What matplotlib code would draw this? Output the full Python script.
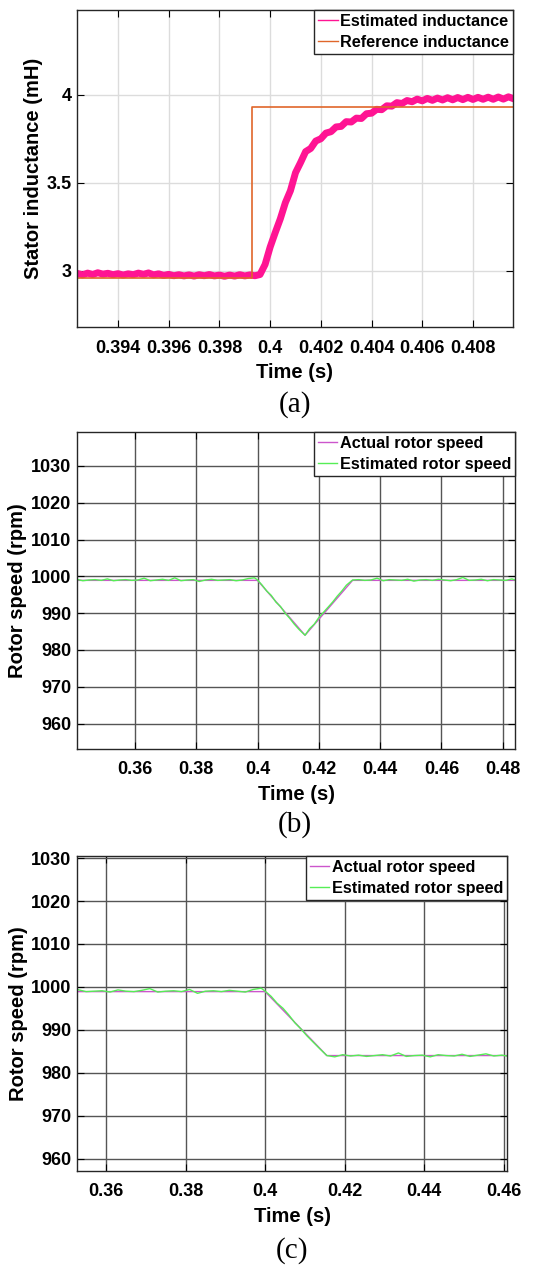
import matplotlib
matplotlib.use("Agg")
import matplotlib.pyplot as plt

plt.rcParams['font.family'] = ['Liberation Sans', 'DejaVu Sans']
plt.rcParams['font.weight'] = 'bold'

# (a) stator inductance
t_ind = [0.3924, 0.3926, 0.3928, 0.3930, 0.3932, 0.3934, 0.3936, 0.3938, 0.3940, 0.3942,
         0.3944, 0.3946, 0.3948, 0.3950, 0.3952, 0.3954, 0.3956, 0.3958, 0.3960, 0.3962,
         0.3964, 0.3966, 0.3968, 0.3970, 0.3972, 0.3974, 0.3976, 0.3978, 0.3980, 0.3982,
         0.3984, 0.3986, 0.3988, 0.3990, 0.3992, 0.3994, 0.3996,
         0.3998, 0.4000, 0.4002, 0.4004, 0.4006, 0.4008, 0.4010, 0.4012, 0.4014, 0.4016,
         0.4018, 0.4020, 0.4022, 0.4024, 0.4026, 0.4028, 0.4030, 0.4032, 0.4034, 0.4036,
         0.4038, 0.4040, 0.4042, 0.4044, 0.4046, 0.4048, 0.4050, 0.4052, 0.4054, 0.4056,
         0.4058, 0.4060, 0.4062, 0.4064, 0.4066, 0.4068, 0.4070, 0.4072, 0.4074, 0.4076,
         0.4078, 0.4080, 0.4082, 0.4084, 0.4086, 0.4088, 0.4090, 0.4092, 0.4094, 0.4096]
est_ind = [2.984, 2.976, 2.986, 2.978, 2.988, 2.980, 2.985, 2.977, 2.983, 2.975,
           2.982, 2.977, 2.986, 2.979, 2.987, 2.976, 2.982, 2.973, 2.979, 2.971,
           2.977, 2.970, 2.976, 2.969, 2.977, 2.971, 2.978, 2.970, 2.975, 2.968,
           2.975, 2.969, 2.977, 2.970, 2.976, 2.971, 2.978,
           3.035, 3.134, 3.216, 3.294, 3.386, 3.454, 3.556, 3.614, 3.676, 3.694,
           3.736, 3.749, 3.781, 3.789, 3.816, 3.819, 3.846, 3.844, 3.866, 3.864,
           3.891, 3.894, 3.916, 3.914, 3.936, 3.934, 3.954, 3.949, 3.966, 3.959,
           3.974, 3.964, 3.978, 3.967, 3.980, 3.969, 3.982, 3.970, 3.983, 3.971,
           3.984, 3.972, 3.984, 3.973, 3.985, 3.973, 3.986, 3.974, 3.987, 3.976]
t_ref = [0.3924, 0.3993, 0.3993, 0.4096]
ref_ind = [2.96, 2.96, 3.93, 3.93]

# (b) speed dip and recovery
t_b = [0.341, 0.343, 0.345, 0.347, 0.349, 0.351, 0.353, 0.355, 0.357, 0.359,
       0.361, 0.363, 0.365, 0.367, 0.369, 0.371, 0.373, 0.375, 0.377, 0.379,
       0.381, 0.383, 0.385, 0.387, 0.389, 0.391, 0.393, 0.395, 0.397, 0.399,
       0.400, 0.4015, 0.403, 0.4045, 0.406, 0.4075, 0.409, 0.4105, 0.412, 0.4135, 0.4155,
       0.417, 0.4185, 0.420, 0.4215, 0.423, 0.4245, 0.426, 0.4275, 0.429, 0.431,
       0.433, 0.435, 0.437, 0.439, 0.441, 0.443, 0.445, 0.447, 0.449, 0.451,
       0.453, 0.455, 0.457, 0.459, 0.461, 0.463, 0.465, 0.467, 0.469, 0.471,
       0.473, 0.475, 0.477, 0.479, 0.481, 0.483, 0.484]
est_b = [999.2, 998.8, 999.0, 999.1, 998.9, 999.3, 998.8, 999.0, 999.1, 998.9,
         999.0, 999.5, 998.8, 999.0, 999.2, 998.9, 999.6, 998.8, 999.0, 999.1,
         998.6, 999.0, 999.2, 998.9, 999.0, 999.1, 998.8, 999.0, 999.4, 999.6,
         999.0, 997.6, 996.0, 994.8, 993.0, 991.8, 990.0, 988.6, 987.0, 985.6, 984.0,
         985.8, 987.0, 988.8, 990.2, 991.6, 993.0, 994.6, 996.0, 997.6, 999.0,
         999.1, 998.9, 999.0, 999.5, 998.8, 999.1, 999.0, 998.9, 999.2, 998.7,
         999.0, 999.1, 998.9, 999.2, 999.0, 998.8, 999.1, 999.7, 998.9, 999.0,
         999.2, 998.8, 999.1, 999.0, 998.9, 999.3, 999.0]
t_act_b = [0.341, 0.400, 0.4155, 0.431, 0.484]
act_b = [998.9, 998.9, 984.0, 998.9, 998.9]

# (c) speed step down
t_c = [0.3527, 0.355, 0.357, 0.359, 0.361, 0.363, 0.365, 0.367, 0.369, 0.371,
       0.373, 0.375, 0.377, 0.379, 0.381, 0.383, 0.385, 0.387, 0.389, 0.391,
       0.393, 0.395, 0.397, 0.399,
       0.400, 0.4015, 0.403, 0.4045, 0.406, 0.4075, 0.409, 0.4105, 0.412, 0.4135, 0.4155,
       0.4175, 0.4195, 0.4215, 0.4235, 0.4255, 0.4275, 0.4295, 0.4315, 0.4335, 0.4355,
       0.4375, 0.4395, 0.4415, 0.4435, 0.4455, 0.4475, 0.4495, 0.4515, 0.4535, 0.4555,
       0.4575, 0.4595, 0.4608]
est_c = [999.4, 998.9, 999.0, 999.1, 998.8, 999.3, 999.0, 998.9, 999.2, 999.6,
         998.8, 999.0, 999.1, 998.9, 999.4, 998.5, 999.0, 999.1, 998.9, 999.2,
         999.0, 998.8, 999.4, 999.7,
         999.0, 997.8, 996.2, 995.0, 993.4, 991.6, 990.2, 988.6, 987.2, 985.8, 984.0,
         983.7, 984.2, 983.9, 984.1, 983.8, 984.0, 984.2, 983.9, 984.6, 983.8,
         984.0, 984.1, 983.7, 984.2, 984.0, 983.9, 984.3, 983.8, 984.1, 984.4,
         983.9, 984.1, 983.9]
t_act_c = [0.3527, 0.400, 0.4155, 0.4608]
act_c = [998.9, 998.9, 984.0, 984.0]

W, H = 542, 1267
fig = plt.figure(figsize=(W / 100, H / 100), dpi=100)


def box(l, r, t, b):
    return [l / W, (H - b) / H, (r - l) / W, (b - t) / H]


def style(ax, gridcolor):
    ax.grid(True, color=gridcolor, lw=1.0)
    ax.set_axisbelow(True)
    ax.tick_params(direction='in', top=True, right=True, length=5, labelsize=13)
    ax.tick_params(axis='x', pad=9)
    ax.tick_params(axis='y', pad=4)
    for s in ax.spines.values():
        s.set_color('#262626')
        s.set_linewidth(1.0)
    ax.set_xlabel('Time (s)', fontsize=14.5, fontweight='bold', labelpad=5)


def legend(ax):
    leg = ax.legend(loc='upper right', frameon=True, fancybox=False,
                    edgecolor='#262626', framealpha=1, borderaxespad=0,
                    handlelength=1.2, handletextpad=0.15, borderpad=0.25,
                    labelspacing=0.35, prop={'weight': 'bold', 'size': 11.7})
    for h in leg.get_lines():
        h.set_linewidth(1.0)
    leg.get_frame().set_linewidth(1.0)


# panel (a)
ax1 = fig.add_axes(box(77, 513, 10, 327))
ax1.plot(t_ind, est_ind, color='#ff1493', lw=5, label='Estimated inductance')
ax1.plot(t_ref, ref_ind, color='#e0662a', lw=1.2, label='Reference inductance')
ax1.set_xlim(0.39238, 0.40958)
ax1.set_ylim(2.68, 4.48)
ax1.set_xticks([0.394, 0.396, 0.398, 0.4, 0.402, 0.404, 0.406, 0.408])
ax1.set_xticklabels(['0.394', '0.396', '0.398', '0.4', '0.402', '0.404', '0.406', '0.408'])
ax1.set_yticks([3, 3.5, 4])
ax1.set_yticklabels(['3', '3.5', '4'])
ax1.set_ylabel('Stator inductance (mH)', fontsize=14.5, fontweight='bold')
ax1.yaxis.set_label_coords(-0.078, 0.5)
style(ax1, '#dcdcdc')
legend(ax1)

# panel (b)
ax2 = fig.add_axes(box(77, 515, 432, 749))
ax2.plot(t_act_b, act_b, color='#cc55cc', lw=1.0, label='Actual rotor speed')
ax2.plot(t_b, est_b, color='#55ee55', lw=1.0, label='Estimated rotor speed')
ax2.set_xlim(0.3411, 0.484)
ax2.set_ylim(953.1, 1039.2)
ax2.set_xticks([0.36, 0.38, 0.4, 0.42, 0.44, 0.46, 0.48])
ax2.set_xticklabels(['0.36', '0.38', '0.4', '0.42', '0.44', '0.46', '0.48'])
ax2.set_yticks([960, 970, 980, 990, 1000, 1010, 1020, 1030])
ax2.set_ylabel('Rotor speed (rpm)', fontsize=14.5, fontweight='bold')
ax2.yaxis.set_label_coords(-0.114, 0.5)
style(ax2, '#555555')
legend(ax2)

# panel (c)
ax3 = fig.add_axes(box(77, 507, 856, 1171))
ax3.plot(t_act_c, act_c, color='#cc55cc', lw=1.0, label='Actual rotor speed')
ax3.plot(t_c, est_c, color='#55ee55', lw=1.0, label='Estimated rotor speed')
ax3.set_xlim(0.3527, 0.4608)
ax3.set_ylim(957.1, 1030.5)
ax3.set_xticks([0.36, 0.38, 0.4, 0.42, 0.44, 0.46])
ax3.set_xticklabels(['0.36', '0.38', '0.4', '0.42', '0.44', '0.46'])
ax3.set_yticks([960, 970, 980, 990, 1000, 1010, 1020, 1030])
ax3.set_ylabel('Rotor speed (rpm)', fontsize=14.5, fontweight='bold')
ax3.yaxis.set_label_coords(-0.114, 0.5)
style(ax3, '#555555')
legend(ax3)

# sub-figure captions
for lab, xc, yc in [('(a)', 295, 405), ('(b)', 295, 825), ('(c)', 292, 1251)]:
    fig.text(xc / W, 1 - yc / H, lab, family='Liberation Serif', fontweight='normal',
             fontsize=21, ha='center', va='center')

fig.savefig('out.png', dpi=100)
